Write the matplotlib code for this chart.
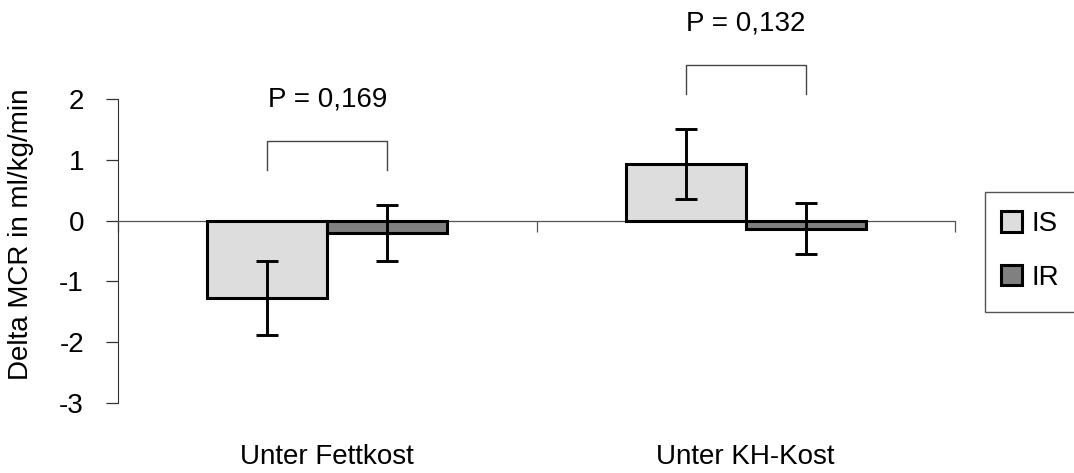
"""
Delta MCR bar chart (IS vs IR) under two diets
"""

import matplotlib.pyplot as plt
from matplotlib.patches import Rectangle
from matplotlib.transforms import blended_transform_factory
import numpy as np

plt.rcParams["font.family"] = ["Liberation Sans", "DejaVu Sans"]

# ---------------------------------------------------------
# Data
# ---------------------------------------------------------

categories = ["Unter Fettkost", "Unter KH-Kost"]
groups = ["IS", "IR"]

is_mean = [-1.27, 0.93]
is_err = [0.61, 0.57]

ir_mean = [-0.20, -0.13]
ir_err = [0.46, 0.42]

p_labels = ["P = 0,169", "P = 0,132"]
bracket_top = [1.31, 2.56]
y_ticks = [-3, -2, -1, 0, 1, 2]

# ---------------------------------------------------------
# Plot
# ---------------------------------------------------------

FS = 20
W, H = 1074, 473

fig = plt.figure(figsize=(W / 100, H / 100), dpi=100)
ax = fig.add_axes([118 / W, 70 / H, 837 / W, 304 / H])

x = np.arange(len(categories))
width = 0.287

colors = ["#dddddd", "#808080"]
means = [is_mean, ir_mean]
errs = [is_err, ir_err]
offsets = [-width / 2, width / 2]

handles = []
for i in range(2):
    b = ax.bar(
        x + offsets[i],
        means[i],
        width,
        color=colors[i],
        edgecolor="black",
        linewidth=2.2,
        label=groups[i],
        zorder=3
    )
    handles.append(b)
    ax.errorbar(
        x + offsets[i],
        means[i],
        yerr=errs[i],
        fmt="none",
        ecolor="black",
        elinewidth=2.1,
        capsize=7.8,
        capthick=2.1,
        zorder=4
    )

# significance brackets
leg = 0.47
for i in range(len(categories)):
    x0 = x[i] + offsets[0]
    x1 = x[i] + offsets[1]
    top = bracket_top[i]
    ax.plot(
        [x0, x0, x1, x1],
        [top - leg, top, top, top - leg],
        color="#444444",
        linewidth=1.0,
        clip_on=False
    )
    ax.text(
        x[i],
        top + 0.68,
        p_labels[i],
        ha="center",
        va="center",
        fontsize=FS,
        clip_on=False
    )

# axes styling
ax.set_xlim(-0.5, 1.5)
ax.set_ylim(-3, 2)

ax.spines["top"].set_visible(False)
ax.spines["right"].set_visible(False)
ax.spines["left"].set_color("#333333")
ax.spines["bottom"].set_position(("data", 0))
ax.spines["bottom"].set_color("#555555")
ax.spines["bottom"].set_linewidth(0.9)

ax.set_yticks(y_ticks)
ax.set_yticklabels([str(t) for t in y_ticks], fontsize=FS)
ax.tick_params(axis="y", direction="out", length=8.5, width=0.9,
               color="#333333", pad=16)

ax.set_xticks([-0.5, 0.5, 1.5])
ax.set_xticklabels([])
ax.tick_params(axis="x", direction="out", length=8, width=0.9,
               color="#555555")

trans = blended_transform_factory(ax.transData, fig.transFigure)
for i, cat in enumerate(categories):
    ax.text(x[i], 1 - 457 / H, cat, transform=trans,
            ha="center", va="center", fontsize=FS)

fig.text(21 / W, 1 - 234 / H, "Delta MCR in ml/kg/min",
         rotation=90, ha="center", va="center", fontsize=FS)

# legend with a box running off the right edge
fig.patches.append(Rectangle(
    (985 / W, 1 - 312 / H), 0.2, 120 / H,
    transform=fig.transFigure, facecolor="none",
    edgecolor="#555555", linewidth=1.0
))
fig.legend(
    handles=handles,
    labels=groups,
    loc="upper left",
    bbox_to_anchor=(990 / W, 1 - 200 / H),
    frameon=False,
    fontsize=FS,
    handlelength=0.75,
    handleheight=0.75,
    handletextpad=0.35,
    labelspacing=1.0,
    borderaxespad=0
)

plt.savefig("out.png", dpi=100)
